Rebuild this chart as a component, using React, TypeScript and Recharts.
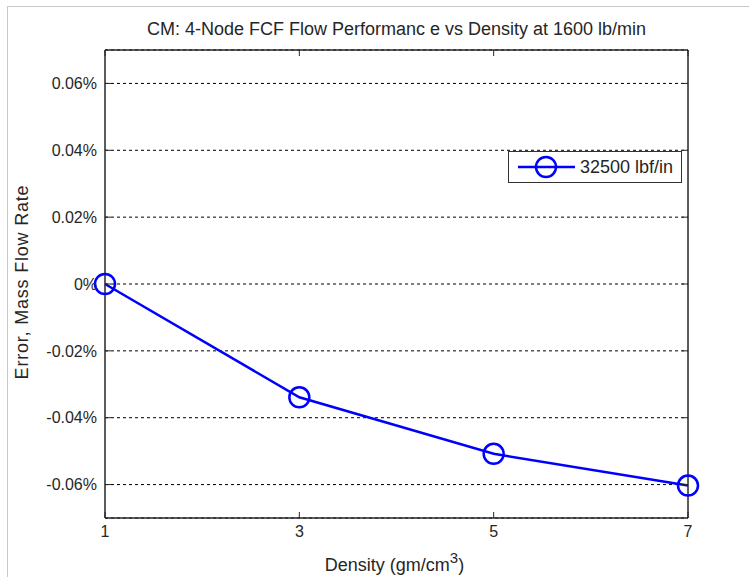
import React from 'react';
import { LineChart, Line, XAxis, YAxis, CartesianGrid, Legend, ReferenceArea } from 'recharts';

// Density (gm/cm^3) vs mass flow rate error (%)
const densities = [1, 3, 5, 7];
const errors = [0, -0.0339, -0.0508, -0.0603];
const xTicks = [1, 3, 5, 7];
const yTicks = [-0.06, -0.04, -0.02, 0, 0.02, 0.04, 0.06];
const xDomain = [1, 7];
const yDomain = [-0.07, 0.07];
const seriesName = '32500 lbf/in';

const data = densities.map((d, i) => ({ density: d, error: errors[i] }));

const FONT = '"Liberation Sans", Arial, sans-serif';
const TXT = '#262626';
const BLUE = '#0000ff';

const fmtPct = (v: number) => (v === 0 ? '0%' : `${v.toFixed(2)}%`);

const LegendBox = () => (
  <div
    style={{
      width: 172,
      height: 30,
      border: '1px solid #333',
      background: '#fff',
      display: 'flex',
      alignItems: 'center',
      fontFamily: FONT,
      fontSize: 18,
      color: TXT,
      whiteSpace: 'nowrap',
    }}
  >
    <svg width={71} height={30}>
      <line x1={9} y1={15} x2={66} y2={15} stroke={BLUE} strokeWidth={2.5} />
      <circle cx={37} cy={15} r={10} fill="none" stroke={BLUE} strokeWidth={2.5} />
    </svg>
    <span>{seriesName}</span>
  </div>
);

const XLabel = (props: any) => {
  const vb = props.viewBox || {};
  const cx = vb.x + vb.width / 2 - 2;
  return (
    <text x={cx} y={571} textAnchor="middle" fontFamily={FONT} fontSize={18} fill={TXT}>
      Density (gm/cm<tspan dy={-8} fontSize={15}>3</tspan>
      <tspan dy={8}>)</tspan>
    </text>
  );
};

export default function App() {
  return (
    <div style={{ position: 'absolute', left: 0, top: 0, width: 749, height: 577, background: '#fff' }}>
      <div
        style={{
          position: 'absolute',
          left: 7,
          top: 6,
          right: 0,
          bottom: 0,
          borderLeft: '1.5px solid #c8c8c8',
          borderTop: '1.5px solid #c8c8c8',
        }}
      />
      <div
        style={{
          position: 'absolute',
          left: 105,
          width: 583,
          top: 19,
          textAlign: 'center',
          fontFamily: FONT,
          fontSize: 18,
          color: TXT,
          whiteSpace: 'nowrap',
        }}
      >
        CM: 4-Node FCF Flow Performanc e vs Density at 1600 lb/min
      </div>
      <div
        style={{
          position: 'absolute',
          left: 22,
          top: 282,
          transform: 'translate(-50%, -50%) rotate(-90deg)',
          fontFamily: FONT,
          fontSize: 18,
          letterSpacing: 0.8,
          color: TXT,
          whiteSpace: 'nowrap',
        }}
      >
        Error, Mass Flow Rate
      </div>
      <LineChart
        width={749}
        height={577}
        data={data}
        margin={{ top: 0, right: 0, bottom: 0, left: 0 }}
        style={{ position: 'absolute', left: 0, top: 0 }}
      >
        <CartesianGrid vertical={false} horizontal stroke="#000" strokeDasharray="3 3" />
        <XAxis
          dataKey="density"
          type="number"
          domain={xDomain}
          ticks={xTicks}
          height={59}
          tickSize={-6}
          tickMargin={14}
          stroke={TXT}
          tick={{ fill: TXT, fontSize: 16, fontFamily: FONT }}
          label={<XLabel />}
        />
        <XAxis
          xAxisId="top"
          orientation="top"
          dataKey="density"
          type="number"
          domain={xDomain}
          ticks={xTicks}
          height={50}
          tickSize={-6}
          stroke={TXT}
          tickFormatter={() => ''}
        />
        <YAxis
          type="number"
          domain={yDomain}
          ticks={yTicks}
          width={105}
          tickSize={-6}
          tickMargin={14}
          stroke={TXT}
          tickFormatter={fmtPct}
          tick={{ fill: TXT, fontSize: 16, fontFamily: FONT }}
        />
        <YAxis
          yAxisId="right"
          orientation="right"
          type="number"
          domain={yDomain}
          ticks={yTicks}
          width={61}
          tickSize={-6}
          stroke={TXT}
          tickFormatter={() => ''}
        />
        {/* solid box round the plot area */}
        <ReferenceArea
          x1={xDomain[0]}
          x2={xDomain[1]}
          y1={yDomain[0]}
          y2={yDomain[1]}
          fill="none"
          fillOpacity={0}
          stroke={TXT}
          strokeWidth={1}
          strokeOpacity={1}
        />
        <Legend
          layout="vertical"
          align="center"
          verticalAlign="middle"
          content={() => <LegendBox />}
          wrapperStyle={{ position: 'absolute', left: 508, top: 151, width: 174 }}
        />
        {/* invisible twin so the mirrored top/right axes get drawn */}
        <Line
          xAxisId="top"
          yAxisId="right"
          dataKey="error"
          stroke="none"
          dot={false}
          activeDot={false}
          legendType="none"
          isAnimationActive={false}
        />
        <Line
          name={seriesName}
          dataKey="error"
          stroke={BLUE}
          strokeWidth={2.5}
          dot={{ r: 10, fill: 'none', stroke: BLUE, strokeWidth: 2.5 }}
          isAnimationActive={false}
        />
      </LineChart>
    </div>
  );
}
